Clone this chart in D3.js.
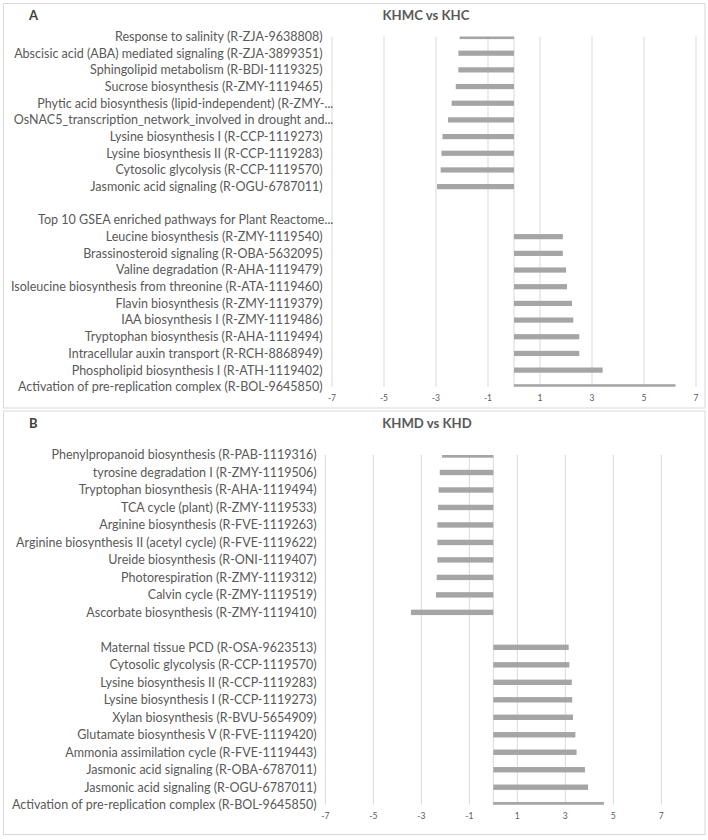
<!DOCTYPE html>
<html>
<head>
<meta charset="utf-8">
<script src="https://cdn.jsdelivr.net/npm/d3@7/dist/d3.min.js"></script>
<style>
  html, body { margin: 0; padding: 0; background: #ffffff; }
  svg { display: block; }
</style>
</head>
<body>
<svg id="chart" width="708" height="840"></svg>
<script>
// ---------------- DATA ----------------
const panelA_categories = [
  "Response to salinity (R-ZJA-9638808)",
  "Abscisic acid (ABA) mediated signaling (R-ZJA-3899351)",
  "Sphingolipid metabolism (R-BDI-1119325)",
  "Sucrose biosynthesis (R-ZMY-1119465)",
  "Phytic acid biosynthesis (lipid-independent) (R-ZMY-...",
  "OsNAC5_transcription_network_involved in drought and...",
  "Lysine biosynthesis I (R-CCP-1119273)",
  "Lysine biosynthesis II (R-CCP-1119283)",
  "Cytosolic glycolysis (R-CCP-1119570)",
  "Jasmonic acid signaling (R-OGU-6787011)",
  "",
  "Top 10 GSEA enriched pathways for Plant Reactome...",
  "Leucine biosynthesis (R-ZMY-1119540)",
  "Brassinosteroid signaling (R-OBA-5632095)",
  "Valine degradation (R-AHA-1119479)",
  "Isoleucine biosynthesis from threonine (R-ATA-1119460)",
  "Flavin biosynthesis (R-ZMY-1119379)",
  "IAA biosynthesis I (R-ZMY-1119486)",
  "Tryptophan biosynthesis (R-AHA-1119494)",
  "Intracellular auxin transport (R-RCH-8868949)",
  "Phospholipid biosynthesis I (R-ATH-1119402)",
  "Activation of pre-replication complex (R-BOL-9645850)"
];
const panelA_values = [
  -2.09, -2.14, -2.14, -2.24, -2.40, -2.54, -2.75, -2.79, -2.82, -2.96,
  null, null,
  1.88, 1.88, 2.00, 2.04, 2.23, 2.28, 2.51, 2.51, 3.41, 6.21
];

const panelB_categories = [
  "Phenylpropanoid biosynthesis (R-PAB-1119316)",
  "tyrosine degradation I (R-ZMY-1119506)",
  "Tryptophan biosynthesis (R-AHA-1119494)",
  "TCA cycle (plant) (R-ZMY-1119533)",
  "Arginine biosynthesis (R-FVE-1119263)",
  "Arginine biosynthesis II (acetyl cycle) (R-FVE-1119622)",
  "Ureide biosynthesis (R-ONI-1119407)",
  "Photorespiration (R-ZMY-1119312)",
  "Calvin cycle (R-ZMY-1119519)",
  "Ascorbate biosynthesis (R-ZMY-1119410)",
  " ",
  "Maternal tissue PCD (R-OSA-9623513)",
  "Cytosolic glycolysis (R-CCP-1119570)",
  "Lysine biosynthesis II (R-CCP-1119283)",
  "Lysine biosynthesis I (R-CCP-1119273)",
  "Xylan biosynthesis (R-BVU-5654909)",
  "Glutamate biosynthesis V (R-FVE-1119420)",
  "Ammonia assimilation cycle (R-FVE-1119443)",
  "Jasmonic acid signaling (R-OBA-6787011)",
  "Jasmonic acid signaling (R-OGU-6787011)",
  "Activation of pre-replication complex (R-BOL-9645850)"
];
const panelB_values = [
  -2.14, -2.23, -2.28, -2.30, -2.33, -2.33, -2.33, -2.36, -2.39, -3.43,
  null,
  3.14, 3.17, 3.27, 3.29, 3.32, 3.42, 3.47, 3.82, 3.95, 4.61
];

const xTickValues = [-7, -5, -3, -1, 1, 3, 5, 7];
const panelLetters = ["A", "B"];
const panelTitles = ["KHMC vs KHC", "KHMD vs KHD"];

// ---------------- STYLE / LAYOUT ----------------
const FONT = "Lato, 'Open Sans', 'Liberation Sans', sans-serif";
const TEXT_COLOR = "#595959";
const GRID_COLOR = "#d9d9d9";
const BAR_COLOR = "#a5a5a5";
const BORDER_COLOR = "#d9d9d9";

const svg = d3.select("#chart");

// fit label font size so that the reference label measures ~305px
function measure(text, size, weight) {
  const t = svg.append("text").attr("font-family", FONT).attr("font-size", size)
    .attr("font-weight", weight || "normal").text(text);
  const w = t.node().getComputedTextLength();
  t.remove();
  return w;
}
const refW = measure("Activation of pre-replication complex (R-BOL-9645850)", 100);
const labelSize = 100 * 305 / refW;
const titleW = measure("KHMC vs KHC", 100, "bold");
const titleSize = Math.min(15, 100 * 87 / titleW);

const panels = [
  {
    cats: panelA_categories, vals: panelA_values,
    frame: {x: 3.5, y: 3.5, w: 701.5, h: 404.5},
    xRange: [332, 696], yRange: [36.5, 386.8],
    labelRight: 322.7, truncRight: 333.3, tickY: 398.3,
    letterY: 20, titleX: 426, barH: 5.2
  },
  {
    cats: panelB_categories, vals: panelB_values,
    frame: {x: 3.5, y: 411, w: 701.5, h: 423.5},
    xRange: [325.3, 661.3], yRange: [455, 804.7],
    labelRight: 316.7, truncRight: 327, tickY: 815.8,
    letterY: 428, titleX: 427, barH: 5.4
  }
];

panels.forEach((p, pi) => {
  const g = svg.append("g");

  // frame
  g.append("rect")
    .attr("x", p.frame.x).attr("y", p.frame.y)
    .attr("width", p.frame.w).attr("height", p.frame.h)
    .attr("fill", "#fff").attr("stroke", BORDER_COLOR).attr("stroke-width", 1);

  const x = d3.scaleLinear().domain([-7, 7]).range(p.xRange);
  const y = d3.scalePoint().domain(d3.range(p.cats.length)).range(p.yRange);

  const top = p.yRange[0], bottom = p.yRange[1];

  // gridlines
  g.append("g").selectAll("line").data(xTickValues).join("line")
    .attr("x1", d => x(d)).attr("x2", d => x(d))
    .attr("y1", top).attr("y2", bottom)
    .attr("stroke", GRID_COLOR).attr("stroke-width", 1);

  // zero axis line
  g.append("line")
    .attr("x1", x(0)).attr("x2", x(0)).attr("y1", top).attr("y2", bottom)
    .attr("stroke", GRID_COLOR).attr("stroke-width", 1);

  // clip for bars
  const clipId = "clip" + pi;
  svg.append("clipPath").attr("id", clipId).append("rect")
    .attr("x", p.xRange[0] - 2).attr("y", top)
    .attr("width", p.xRange[1] - p.xRange[0] + 4).attr("height", bottom - top);

  const barData = p.vals.map((v, i) => ({v, i})).filter(d => d.v !== null);
  g.append("g").attr("clip-path", `url(#${clipId})`)
    .selectAll("rect").data(barData).join("rect")
    .attr("x", d => x(Math.min(0, d.v)))
    .attr("width", d => Math.abs(x(d.v) - x(0)))
    .attr("y", d => y(d.i) - p.barH / 2)
    .attr("height", p.barH)
    .attr("fill", BAR_COLOR);

  // category labels
  g.append("g").selectAll("text").data(p.cats.map((c, i) => ({c, i}))).join("text")
    .attr("x", d => d.c.endsWith("...") ? p.truncRight : p.labelRight)
    .attr("y", d => y(d.i))
    .attr("dy", "0.35em")
    .attr("text-anchor", "end")
    .attr("font-family", FONT).attr("font-size", labelSize)
    .attr("fill", TEXT_COLOR)
    .text(d => d.c.trim());

  // x tick labels
  g.append("g").selectAll("text").data(xTickValues).join("text")
    .attr("x", d => x(d)).attr("y", p.tickY).attr("dy", "0.35em")
    .attr("text-anchor", "middle")
    .attr("font-family", FONT).attr("font-size", 8.5)
    .attr("fill", TEXT_COLOR)
    .text(d => d);

  // panel letter
  g.append("text")
    .attr("x", 29).attr("y", p.letterY)
    .attr("font-family", FONT).attr("font-size", 13).attr("font-weight", "bold")
    .attr("fill", "#404040")
    .text(panelLetters[pi]);

  // title
  g.append("text")
    .attr("x", p.titleX).attr("y", p.letterY)
    .attr("text-anchor", "middle")
    .attr("font-family", FONT).attr("font-size", titleSize).attr("font-weight", "bold")
    .attr("fill", TEXT_COLOR)
    .text(panelTitles[pi]);
});
</script>
</body>
</html>
